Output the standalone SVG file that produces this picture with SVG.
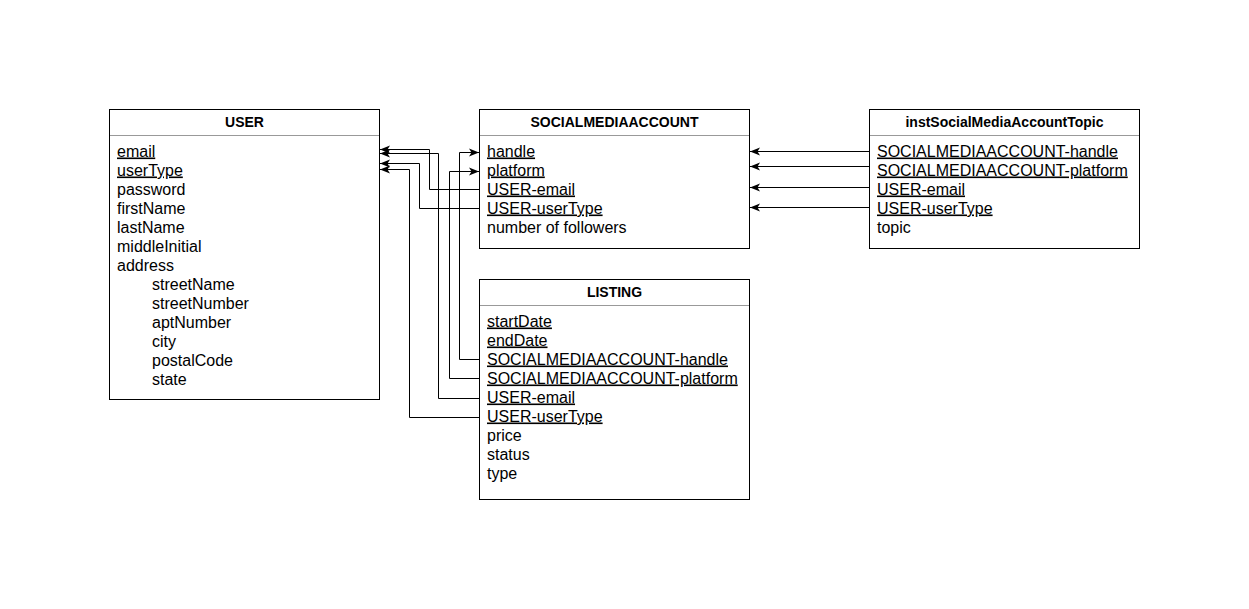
<svg xmlns="http://www.w3.org/2000/svg" width="1249" height="609" viewBox="0 0 1249 609">
<style>
.box{fill:#fff;stroke:#000;stroke-width:1}
.sep{stroke:#999;stroke-width:1}
.hd{font-family:"Liberation Sans",Arial,sans-serif;font-size:14px;font-weight:bold;text-anchor:middle;fill:#000}
.f{font-family:"Liberation Sans",Arial,sans-serif;font-size:16px;fill:#000}
.k{text-decoration:underline}
.c{fill:none;stroke:#000;stroke-width:1}
</style>
<defs>
<marker id="arr" markerWidth="12" markerHeight="10" refX="10" refY="4.5" orient="auto" markerUnits="userSpaceOnUse">
<path d="M0,0.5 L10,4.5 L0,8.5 L2.5,4.5 z" fill="#000"/>
</marker>
</defs>
<rect width="1249" height="609" fill="#fff"/>
<g id="USER">
<rect class="box" x="109.5" y="109.5" width="270" height="290"/>
<line class="sep" x1="110" y1="135.5" x2="379" y2="135.5"/>
<text class="hd" x="244.5" y="126.5">USER</text>
<text class="f k" x="117" y="156.5">email</text>
<text class="f k" x="117" y="175.5">userType</text>
<text class="f" x="117" y="194.5">password</text>
<text class="f" x="117" y="213.5">firstName</text>
<text class="f" x="117" y="232.5">lastName</text>
<text class="f" x="117" y="251.5">middleInitial</text>
<text class="f" x="117" y="270.5">address</text>
<text class="f" x="152" y="289.5">streetName</text>
<text class="f" x="152" y="308.5">streetNumber</text>
<text class="f" x="152" y="327.5">aptNumber</text>
<text class="f" x="152" y="346.5">city</text>
<text class="f" x="152" y="365.5">postalCode</text>
<text class="f" x="152" y="384.5">state</text>
</g>
<g id="SOCIALMEDIAACCOUNT">
<rect class="box" x="479.5" y="109.5" width="270" height="139"/>
<line class="sep" x1="480" y1="135.5" x2="749" y2="135.5"/>
<text class="hd" x="614.5" y="126.5">SOCIALMEDIAACCOUNT</text>
<text class="f k" x="487" y="156.5">handle</text>
<text class="f k" x="487" y="175.5">platform</text>
<text class="f k" x="487" y="194.5">USER-email</text>
<text class="f k" x="487" y="213.5">USER-userType</text>
<text class="f" x="487" y="232.5">number of followers</text>
</g>
<g id="instSocialMediaAccountTopic">
<rect class="box" x="869.5" y="109.5" width="270" height="139"/>
<line class="sep" x1="870" y1="135.5" x2="1139" y2="135.5"/>
<text class="hd" x="1004.5" y="126.5">instSocialMediaAccountTopic</text>
<text class="f k" x="877" y="156.5">SOCIALMEDIAACCOUNT-handle</text>
<text class="f k" x="877" y="175.5">SOCIALMEDIAACCOUNT-platform</text>
<text class="f k" x="877" y="194.5">USER-email</text>
<text class="f k" x="877" y="213.5">USER-userType</text>
<text class="f" x="877" y="232.5">topic</text>
</g>
<g id="LISTING">
<rect class="box" x="479.5" y="279.5" width="270" height="220"/>
<line class="sep" x1="480" y1="305.5" x2="749" y2="305.5"/>
<text class="hd" x="614.5" y="296.5">LISTING</text>
<text class="f k" x="487" y="326.5">startDate</text>
<text class="f k" x="487" y="345.5">endDate</text>
<text class="f k" x="487" y="364.5">SOCIALMEDIAACCOUNT-handle</text>
<text class="f k" x="487" y="383.5">SOCIALMEDIAACCOUNT-platform</text>
<text class="f k" x="487" y="402.5">USER-email</text>
<text class="f k" x="487" y="421.5">USER-userType</text>
<text class="f" x="487" y="440.5">price</text>
<text class="f" x="487" y="459.5">status</text>
<text class="f" x="487" y="478.5">type</text>
</g>
<g id="connectors">
<path class="c" marker-end="url(#arr)" d="M479,189.5 H429.5 V149.5 H380"/>
<path class="c" marker-end="url(#arr)" d="M479,208.5 H419.5 V163.5 H380"/>
<path class="c" marker-end="url(#arr)" d="M479,398.5 H438.5 V153.5 H380"/>
<path class="c" marker-end="url(#arr)" d="M479,417.5 H409.5 V169.5 H380"/>
<path class="c" marker-end="url(#arr)" d="M479,359.5 H459.5 V152.5 H479"/>
<path class="c" marker-end="url(#arr)" d="M479,378.5 H449.5 V171.5 H479"/>
<path class="c" marker-end="url(#arr)" d="M869,151.5 H750"/>
<path class="c" marker-end="url(#arr)" d="M869,166.5 H750"/>
<path class="c" marker-end="url(#arr)" d="M869,187.5 H750"/>
<path class="c" marker-end="url(#arr)" d="M869,207.5 H750"/>
</g>
</svg>
